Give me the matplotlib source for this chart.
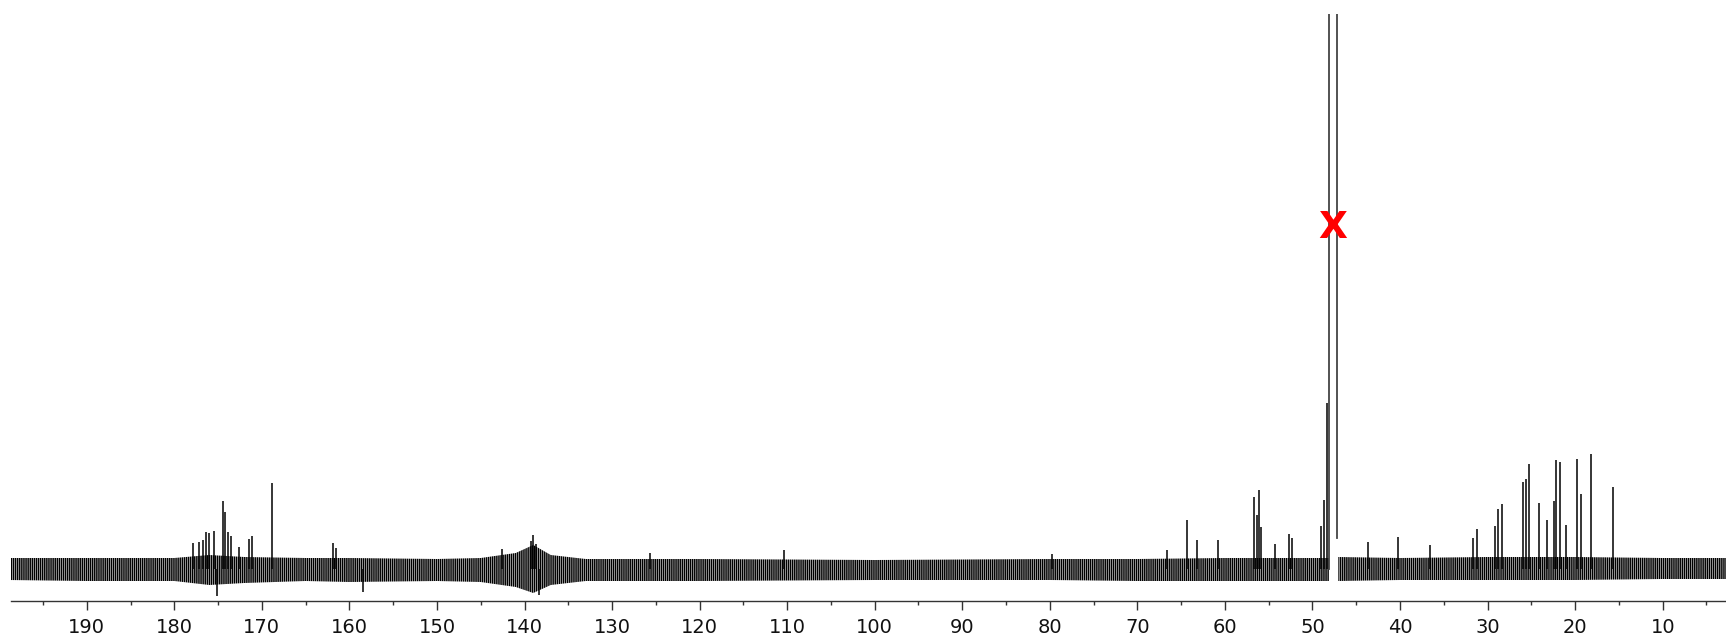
import numpy as np
import matplotlib
matplotlib.use("Agg")
import matplotlib.pyplot as plt
from matplotlib.ticker import MultipleLocator

plt.rcParams['font.family'] = ['DejaVu Sans']
plt.rcParams['hatch.linewidth'] = 1.1

# ---- data (ppm, height above baseline in arbitrary units) ----
peak_ppm = [177.83, 177.14, 176.75, 176.38, 176.00, 175.46, 174.47, 174.20, 173.90,
            173.55, 172.64, 171.50, 171.16, 168.84, 161.84, 161.53, 142.6, 139.3,
            139.0, 138.7, 125.7, 110.4, 79.8, 66.6, 64.37, 63.23, 60.80, 56.65,
            56.31, 56.12, 55.90, 54.29, 52.72, 52.38, 49.07, 48.66, 48.30, 43.63,
            40.20, 36.60, 31.63, 31.22, 29.13, 28.86, 28.37, 25.96, 25.66, 25.24,
            24.17, 23.22, 22.46, 22.16, 21.77, 21.05, 19.83, 19.34, 18.23, 15.65]
peak_height = [25.7, 27.3, 29.0, 37.3, 35.7, 38.3, 68.3, 56.7, 37.3,
               33.0, 21.7, 29.7, 33.0, 85.7, 25.7, 21.0, 20.0, 28.0,
               34.0, 25.0, 16.0, 19.0, 15.0, 19.0, 49.0, 29.0, 29.0, 71.7,
               54.0, 79.0, 42.3, 25.0, 35.0, 30.7, 43.0, 69.0, 166.0, 27.3,
               32.3, 24.0, 30.7, 39.7, 43.0, 59.7, 65.0, 87.3, 89.7, 105.0,
               66.3, 49.0, 68.3, 109.0, 106.7, 43.7, 109.7, 75.0, 115.0, 81.7]

# downward noise spikes that stand out
dip_ppm = [175.16, 158.4, 138.3]
dip_depth = [-26.5, -22.6, -26.0]

# off-scale solvent signal (flank positions, height, right-foot height)
solvent_ppm = [48.12, 48.12, 47.24, 47.24]
solvent_height = [0.0, 5000.0, 5000.0, 31.0]

# noise envelope of the baseline
noise_ppm = [199, 190, 180, 176, 172, 165, 160, 150, 145, 141, 139, 137, 133,
             120, 100, 80, 70, 60, 50, 48.12, 47.6, 47.05, 40, 30, 20, 10, 2.5]
noise_upper = [11, 11, 11, 14, 12, 11, 11, 10, 11, 16, 24, 14, 10,
               10, 9, 10, 10, 11, 11, 11, np.nan, 12, 11, 12, 12, 11, 11]
noise_lower = [-11, -12, -12, -16, -14, -12, -13, -12, -13, -18, -24, -16, -12,
               -12, -11, -11, -12, -12, -12, -12, np.nan, -12, -11, -11, -11, -10, -10]

major_ticks = [190, 180, 170, 160, 150, 140, 130, 120, 110, 100, 90, 80, 70, 60, 50, 40, 30, 20, 10]

marker_ppm = 47.7
marker_height = 341
marker_text = "X"

# ---- figure ----
fig = plt.figure(figsize=(17.26, 6.40), dpi=100)
ax = fig.add_axes([11 / 1726, 39 / 640, 1 - 11 / 1726, (601 - 14) / 640])

ax.fill_between(noise_ppm, noise_lower, noise_upper, facecolor='white',
                edgecolor='black', linewidth=0, hatch='|' * 8)
ax.vlines(peak_ppm, 0, peak_height, color='black', linewidth=1.1)
ax.vlines(dip_ppm, 0, dip_depth, color='black', linewidth=1.1)
ax.plot(solvent_ppm, solvent_height, color='#444444', linewidth=1.3)

ax.text(marker_ppm, marker_height, marker_text, color='red', fontsize=27,
        fontweight='bold', ha='center', va='center')

ax.set_xlim(198.65, 2.77)
ax.set_ylim(-32, 555)

for s in ['top', 'right', 'left']:
    ax.spines[s].set_visible(False)
ax.spines['bottom'].set_color('#333333')
ax.spines['bottom'].set_linewidth(1.0)
ax.set_yticks([])
ax.set_xticks(major_ticks)
ax.set_xticklabels([str(t) for t in major_ticks])
ax.xaxis.set_minor_locator(MultipleLocator(5))
ax.tick_params(axis='x', which='major', length=6.5, width=1.0, color='#333333',
               labelsize=14, labelcolor='#111111', pad=6)
ax.tick_params(axis='x', which='minor', length=3, width=1.0, color='#333333')

fig.savefig('out.png', dpi=100)
